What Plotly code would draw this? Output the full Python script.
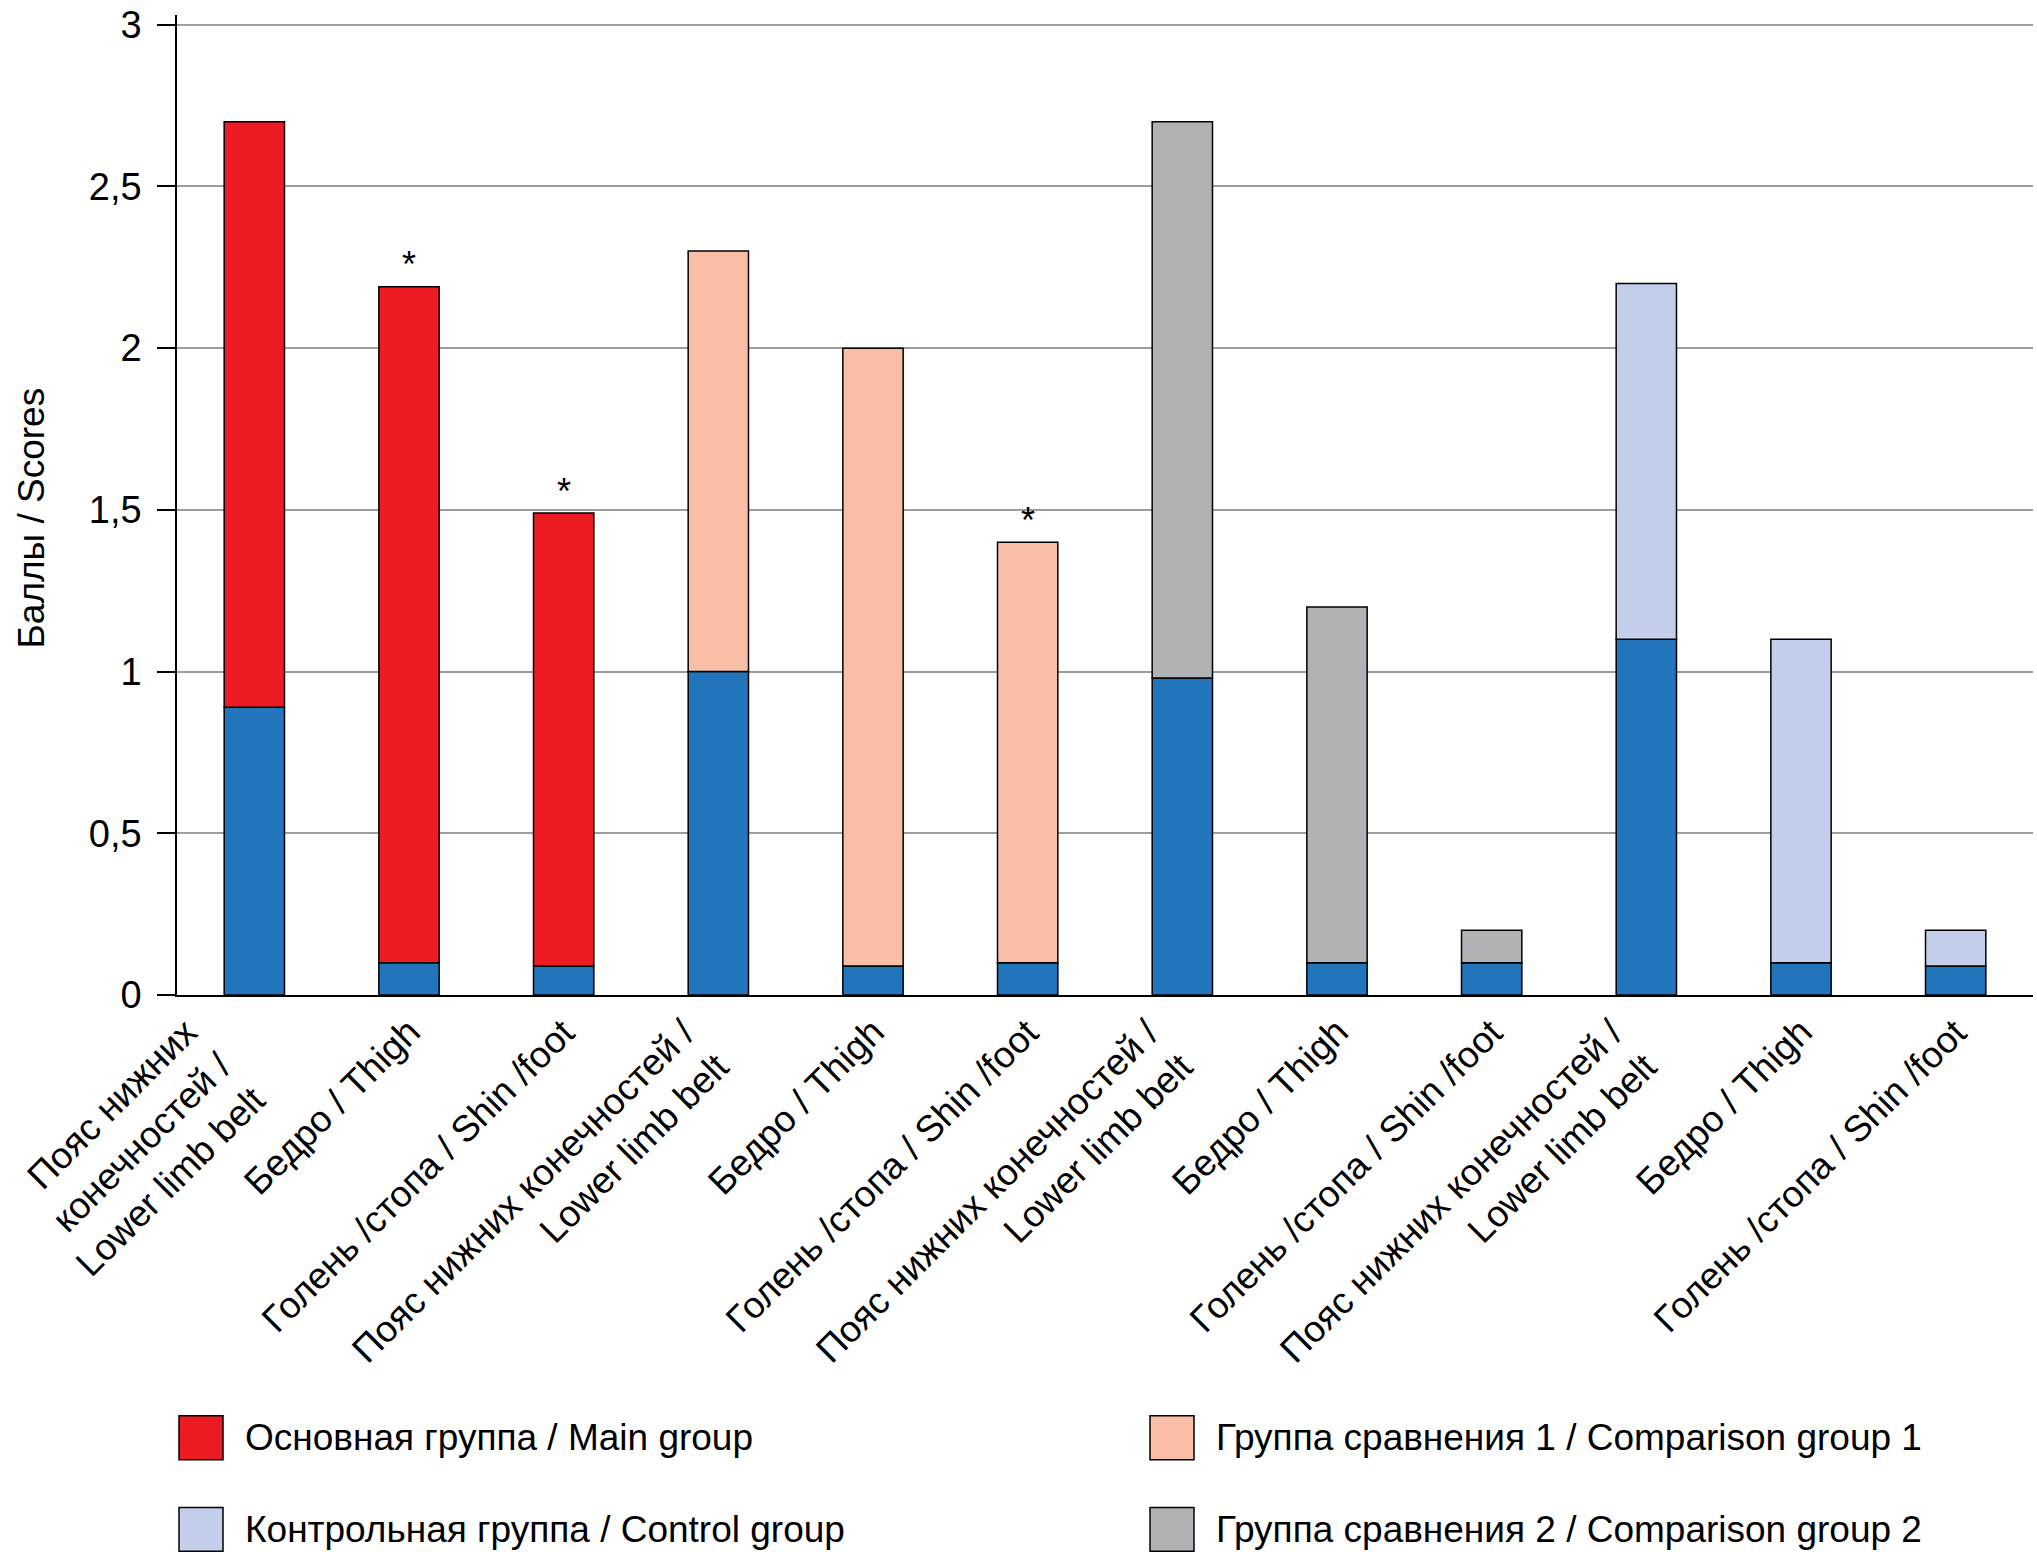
import plotly.graph_objects as go

# ---- data ----
categories = [
    "Пояс нижних<br>конечностей /<br>Lower limb belt",
    "Бедро / Thigh",
    "Голень /стопа / Shin /foot",
    "Пояс нижних конечностей /<br>Lower limb belt",
    "Бедро / Thigh",
    "Голень /стопа / Shin /foot",
    "Пояс нижних конечностей /<br>Lower limb belt",
    "Бедро / Thigh",
    "Голень /стопа / Shin /foot",
    "Пояс нижних конечностей /<br>Lower limb belt",
    "Бедро / Thigh",
    "Голень /стопа / Shin /foot",
]
blue_part = [0.89, 0.10, 0.09, 1.00, 0.09, 0.10, 0.98, 0.10, 0.10, 1.10, 0.10, 0.09]
totals = [2.70, 2.19, 1.49, 2.30, 2.00, 1.40, 2.70, 1.20, 0.20, 2.20, 1.10, 0.20]
group_of_bar = [0, 0, 0, 1, 1, 1, 2, 2, 2, 3, 3, 3]
group_names = [
    "Основная группа / Main group",
    "Группа сравнения 1 / Comparison group 1",
    "Группа сравнения 2 / Comparison group 2",
    "Контрольная группа / Control group",
]
group_colors = ["#ED1C24", "#F9BFA6", "#B1B2B6", "#C3CEEA"]
blue_color = "#2275BB"
star_bars = [1, 2, 5]
y_ticks = [0, 0.5, 1, 1.5, 2, 2.5, 3]
y_title = "Баллы / Scores"

# ---- layout geometry (px) ----
W, H = 2037, 1558
ML, MR, MT, MB = 177, 4, 10, 563
PW, PH = W - ML - MR, H - MT - MB
FONT = "Liberation Sans, Arial, sans-serif"


def px_x(x):
    return (x - ML) / PW


def px_y(y):
    return (H - MB - y) / PH


xs = list(range(len(categories)))
fig = go.Figure()

fig.add_trace(go.Bar(
    x=xs, y=blue_part, marker=dict(color=blue_color, line=dict(color="black", width=1.5)),
    width=0.39, showlegend=False, hoverinfo="skip"))

for g, (name, col) in enumerate(zip(group_names, group_colors)):
    idx = [i for i in xs if group_of_bar[i] == g]
    fig.add_trace(go.Bar(
        x=idx,
        y=[totals[i] - blue_part[i] for i in idx],
        base=[blue_part[i] for i in idx],
        name=name,
        marker=dict(color=col, line=dict(color="black", width=1.5)),
        width=0.39, showlegend=False))

annotations = []
for i in star_bars:
    annotations.append(dict(x=i, y=totals[i], xref="x", yref="y", text="*", showarrow=False,
                            yshift=22, font=dict(size=36, family=FONT, color="black")))

# category labels, rotated, bounding box top-right at the category position
for i, lab in zip(xs, categories):
    annotations.append(dict(x=i, y=0, xref="x", yref="y", text=lab, showarrow=False,
                            textangle=-45, xanchor="right", yanchor="top", align="right",
                            xshift=22, yshift=-13,
                            font=dict(size=37, family=FONT, color="black")))

annotations.append(dict(x=px_x(31), y=px_y(516), xref="paper", yref="paper", text=y_title,
                        textangle=-90, showarrow=False, xanchor="center", yanchor="middle",
                        font=dict(size=37, family=FONT, color="black")))

# manual legend (2 x 2)
legend_items = [
    (0, 179, 1440), (1, 1150, 1440),
    (3, 179, 1532), (2, 1150, 1532),
]
shapes = []
box = 44
for g, bx, by in legend_items:
    shapes.append(dict(type="rect", xref="paper", yref="paper",
                       x0=px_x(bx), x1=px_x(bx + box), y0=px_y(by + box / 2), y1=px_y(by - box / 2),
                       fillcolor=group_colors[g], line=dict(color="black", width=1.5)))
    annotations.append(dict(x=px_x(bx + box + 20), y=px_y(by), xref="paper", yref="paper",
                            text=group_names[g], showarrow=False, xanchor="left", yanchor="middle",
                            font=dict(size=37, family=FONT, color="black")))

fig.update_layout(
    width=W, height=H,
    margin=dict(l=ML, r=MR, t=MT, b=MB),
    paper_bgcolor="white", plot_bgcolor="white",
    barmode="overlay", separators=", ",
    font=dict(family=FONT, size=36, color="black"),
    annotations=annotations, shapes=shapes,
    xaxis=dict(range=[-0.5, len(categories) - 0.5], tickvals=xs, showticklabels=False,
               showline=True, linecolor="black", linewidth=2,
               showgrid=False, zeroline=False, ticks=""),
    yaxis=dict(range=[0, 3.03], tickvals=y_ticks, showline=True, linecolor="black", linewidth=1.5,
               ticks="outside", ticklen=18, tickwidth=1.5, tickcolor="black",
               showgrid=True, gridcolor="#9d9d9d", gridwidth=2, zeroline=False,
               ticklabelstandoff=8, ticklabeloverflow="allow",
               tickfont=dict(size=38, family=FONT, color="black")),
)

fig.write_html("out.html", config={"displayModeBar": False},
               post_script="document.body.style.margin='0';document.body.style.overflow='hidden';")
